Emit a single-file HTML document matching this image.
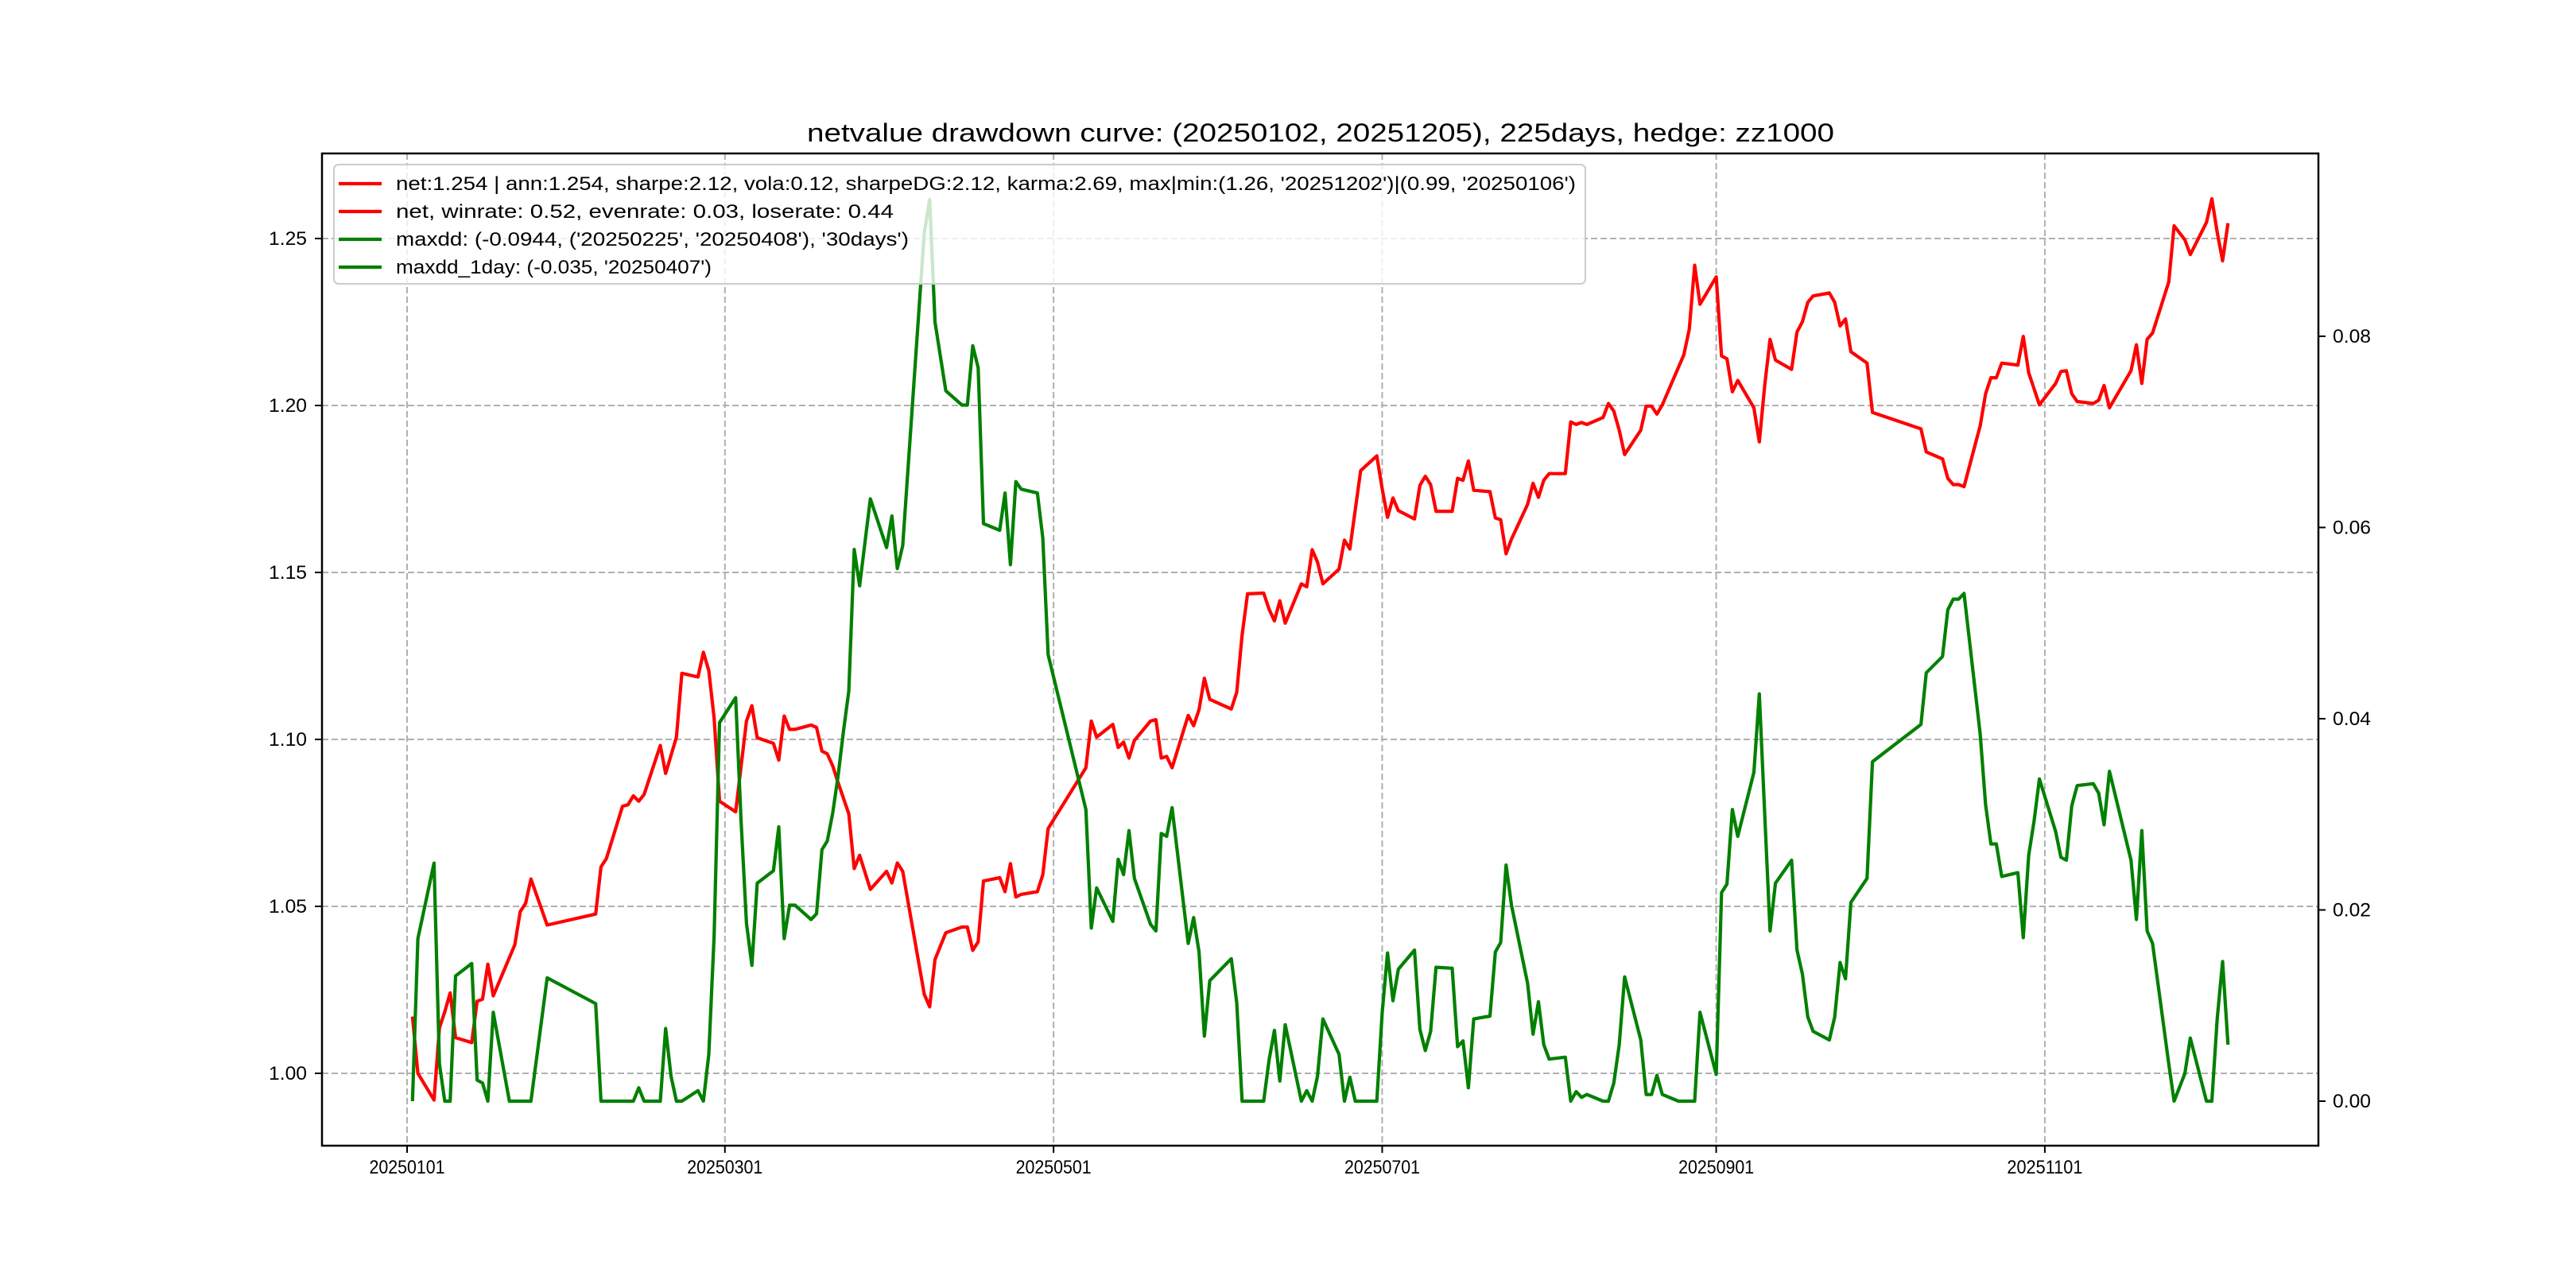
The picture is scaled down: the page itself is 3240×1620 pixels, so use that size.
<!DOCTYPE html>
<html><head><meta charset="utf-8"><style>
html,body{margin:0;padding:0;background:#fff;}
svg{display:block;}
text{font-family:"Liberation Sans","Noto Sans CJK SC",sans-serif;fill:#000;}
</style></head><body>
<svg id="chart" width="3240" height="1620" viewBox="0 0 3240 1620" xmlns="http://www.w3.org/2000/svg">
<rect x="0" y="0" width="3240" height="1620" fill="#fff"/>
<text x="1661" y="178" font-size="32" text-anchor="middle" textLength="1292" lengthAdjust="spacingAndGlyphs">netvalue drawdown curve: (20250102, 20251205), 225days, hedge: zz1000</text>
<g id="grid"></g>
<g id="lines"></g>
<g id="axes"></g>
<g>
<rect x="420" y="207" width="1574" height="150" rx="6" fill="#fff" fill-opacity="0.8" stroke="#cccccc" stroke-width="2"/>
<g><line x1="426" y1="231" x2="480" y2="231" stroke="#ff0000" stroke-width="4.2"/><text x="498" y="239" font-size="24" textLength="1484" lengthAdjust="spacingAndGlyphs">net:1.254 | ann:1.254, sharpe:2.12, vola:0.12, sharpeDG:2.12, karma:2.69, max|min:(1.26, '20251202')|(0.99, '20250106')</text></g>
<g><line x1="426" y1="266" x2="480" y2="266" stroke="#ff0000" stroke-width="4.2"/><text x="498" y="274" font-size="24" textLength="626" lengthAdjust="spacingAndGlyphs">net, winrate: 0.52, evenrate: 0.03, loserate: 0.44</text></g>
<g><line x1="426" y1="301" x2="480" y2="301" stroke="#008000" stroke-width="4.2"/><text x="498" y="309" font-size="24" textLength="645" lengthAdjust="spacingAndGlyphs">maxdd: (-0.0944, ('20250225', '20250408'), '30days')</text></g>
<g><line x1="426" y1="336" x2="480" y2="336" stroke="#008000" stroke-width="4.2"/><text x="498" y="344" font-size="24" textLength="397" lengthAdjust="spacingAndGlyphs">maxdd_1day: (-0.035, '20250407')</text></g>
</g>
</svg>
<script>
// day offsets from 2025-01-01
const netDays=[1,2,5,6,7,8,9,12,13,14,15,16,20,21,22,23,26,35,36,37,40,41,42,43,44,47,48,50,51,54,55,56,57,58,61,63,64,65,68,69,70,71,72,75,76,77,78,79,80,82,83,84,86,89,90,91,92,96,97,98,100,103,104,105,106,107,110,111,112,113,114,117,118,119,126,127,128,131,132,133,134,135,138,139,140,141,142,145,146,147,148,149,153,154,155,156,159,160,161,162,163,166,167,168,169,170,173,174,175,177,180,181,182,183,184,187,188,189,190,191,194,195,196,197,198,201,202,203,204,205,208,209,210,211,212,215,216,217,218,219,222,223,224,225,226,229,230,231,232,233,237,238,239,240,243,244,245,246,247,250,251,252,253,254,257,258,259,260,261,264,265,266,267,268,271,272,281,282,285,286,287,288,289,292,293,294,295,296,299,300,301,302,303,306,307,308,309,310,313,314,315,316,320,321,322,323,324,327,328,330,331,334,335,336,337,338];
const netValues=[1.017,1.000,0.992,1.0136,1.0184,1.0241,1.0107,1.0092,1.0216,1.0222,1.0327,1.0232,1.0385,1.0484,1.0509,1.0582,1.0444,1.0477,1.0618,1.0643,1.0800,1.0804,1.0831,1.0815,1.0835,1.0982,1.0898,1.1007,1.1198,1.1187,1.1261,1.1206,1.1064,1.0815,1.0783,1.1055,1.1101,1.1005,1.0988,1.0938,1.1070,1.1030,1.1030,1.1043,1.1036,1.0965,1.0957,1.0921,1.0871,1.0777,1.0613,1.0653,1.0551,1.0605,1.0570,1.0630,1.0605,1.0237,1.0199,1.0341,1.0421,1.0438,1.0438,1.0368,1.0394,1.0576,1.0586,1.0544,1.0628,1.0528,1.0536,1.0544,1.0595,1.0733,1.0915,1.1055,1.1007,1.1045,1.0976,1.0992,1.0944,1.0997,1.1055,1.1059,1.0944,1.0949,1.0915,1.1072,1.1041,1.1089,1.1183,1.1120,1.1091,1.1141,1.1313,1.1436,1.1438,1.1390,1.1355,1.1415,1.1348,1.1466,1.1457,1.1568,1.1531,1.1466,1.1510,1.1597,1.1570,1.1805,1.1849,1.1750,1.1665,1.1723,1.1685,1.1660,1.1761,1.1788,1.1763,1.1683,1.1683,1.1782,1.1776,1.1834,1.1746,1.1742,1.1663,1.1658,1.1556,1.1600,1.1704,1.1767,1.1725,1.1776,1.1796,1.1796,1.1951,1.1943,1.1949,1.1943,1.1964,1.2006,1.1983,1.1926,1.1853,1.1926,1.1998,1.1998,1.1974,1.2002,1.2152,1.2228,1.2420,1.2303,1.2385,1.2148,1.2140,1.2041,1.2075,1.1993,1.1891,1.2060,1.2198,1.2136,1.2108,1.2220,1.2251,1.2309,1.2328,1.2337,1.2309,1.2238,1.2259,1.2161,1.2127,1.1979,1.1930,1.1861,1.1840,1.1782,1.1763,1.1763,1.1757,1.1939,1.2035,1.2083,1.2083,1.2127,1.2121,1.2207,1.2098,1.2050,1.2002,1.2066,1.2102,1.2104,1.2035,1.2012,1.2006,1.2016,1.2060,1.1993,1.2104,1.2182,1.2066,1.2198,1.2217,1.2370,1.2538,1.2496,1.2452,1.2548,1.2619,1.2519,1.2433,1.2546];
const ddDays=[1,2,5,6,7,8,9,12,13,14,15,16,19,23,26,35,36,42,43,44,47,48,49,50,51,54,55,56,57,58,61,62,63,64,65,68,69,70,71,72,75,76,77,78,79,80,81,82,83,84,86,89,90,91,92,96,97,98,100,103,104,105,106,107,110,111,112,113,114,117,118,119,126,127,128,131,132,133,134,135,138,139,140,141,142,145,146,147,148,149,153,154,155,159,160,161,162,163,166,167,168,169,170,173,174,175,176,180,181,182,183,184,187,188,189,190,191,194,195,196,197,198,201,202,203,204,205,208,209,210,211,212,215,216,217,218,219,222,223,224,225,226,229,230,231,232,233,236,239,240,243,244,245,246,247,250,251,252,253,254,257,258,259,260,261,264,265,266,267,268,271,272,281,282,285,286,287,288,289,292,293,294,295,296,299,300,301,302,303,306,307,308,309,310,313,314,315,316,320,321,322,323,324,327,328,330,331,334,335,336,337,338];
const ddValues=[0,0.0170,0.0249,0.0039,0,0,0.0131,0.0144,0.0022,0.0019,0,0.0093,0,0,0.0129,0.0102,0,0,0.0014,0,0,0.0076,0.0026,0,0,0.0011,0,0.0049,0.0173,0.0396,0.0422,0.0293,0.0186,0.0142,0.0228,0.0241,0.0287,0.0170,0.0205,0.0205,0.0190,0.0196,0.0263,0.0272,0.0301,0.0340,0.0387,0.0429,0.0577,0.0539,0.0630,0.0579,0.0612,0.0557,0.0581,0.0908,0.0943,0.0815,0.0743,0.0728,0.0728,0.0790,0.0767,0.0604,0.0597,0.0636,0.0561,0.0648,0.0640,0.0636,0.0589,0.0467,0.0305,0.0181,0.0223,0.0188,0.0253,0.0237,0.0283,0.0233,0.0185,0.0178,0.0280,0.0277,0.0307,0.0165,0.0192,0.0156,0.0068,0.0126,0.0149,0.0103,0,0,0.0043,0.0074,0.0021,0.0080,0,0.0011,0,0.0026,0.0086,0.0049,0,0.0025,0,0,0.0093,0.0155,0.0105,0.0138,0.0158,0.0075,0.0053,0.0073,0.0140,0.0139,0.0057,0.0063,0.0014,0.0086,0.0089,0.0156,0.0166,0.0247,0.0205,0.0123,0.0070,0.0104,0.0059,0.0044,0.0046,0,0.0010,0.0004,0.0007,0,0,0.0019,0.0059,0.0130,0.0064,0.0007,0.0007,0.0027,0.0007,0,0,0.0093,0.0028,0.0218,0.0227,0.0305,0.0277,0.0344,0.0426,0.0300,0.0178,0.0228,0.0252,0.0158,0.0133,0.0088,0.0073,0.0064,0.0088,0.0145,0.0128,0.0208,0.0233,0.0355,0.0394,0.0448,0.0465,0.0514,0.0525,0.0525,0.0531,0.0384,0.0310,0.0269,0.0269,0.0235,0.0239,0.0171,0.0257,0.0293,0.0337,0.0282,0.0255,0.0252,0.0309,0.0330,0.0332,0.0322,0.0289,0.0345,0.0252,0.0190,0.0283,0.0178,0.0165,0.0039,0,0.0029,0.0066,0,0,0.0086,0.0146,0.0059];
const xTickDays=[0,59,120,181,243,304];
const xTickLabels=["20250101","20250301","20250501","20250701","20250901","20251101"];
const leftTicks=[1.00,1.05,1.10,1.15,1.20,1.25];
const rightTicks=[0.00,0.02,0.04,0.06,0.08];

const L=405,R=2916,T=193,B=1441;
const xScale=d=>512+d*6.776;
const yLeft=v=>1350-(v-1)*4200;
const yRight=v=>1385-v*12026;
const NS="http://www.w3.org/2000/svg";
function mk(tag,attrs,parent){const e=document.createElementNS(NS,tag);for(const k in attrs)e.setAttribute(k,attrs[k]);parent.appendChild(e);return e;}
const grid=document.getElementById('grid'),lines=document.getElementById('lines'),axes=document.getElementById('axes');
xTickDays.forEach((d,i)=>{
  const x=xScale(d);
  const g=mk('line',{x1:x,x2:x,y1:T,y2:B,stroke:'#b0b0b0','stroke-width':2,'stroke-dasharray':'8,4'},grid);
  
  
  const t=mk('line',{x1:x,x2:x,y1:B,y2:B+9,stroke:'#000','stroke-width':2},axes);
  
  
  const lb=mk('text',{x:x,y:1476,'font-size':24,'text-anchor':'middle',textLength:95,lengthAdjust:'spacingAndGlyphs'},axes);
  lb.textContent=xTickLabels[i];
  
  
});
leftTicks.forEach(v=>{
  const y=yLeft(v);
  const g=mk('line',{x1:L,x2:R,y1:y,y2:y,stroke:'#b0b0b0','stroke-width':2,'stroke-dasharray':'8,4'},grid);
  
  
  const t=mk('line',{x1:L-9,x2:L,y1:y,y2:y,stroke:'#000','stroke-width':2},axes);
  
  
  const lb=mk('text',{x:386,y:y+8,'font-size':24,'text-anchor':'end',textLength:48,lengthAdjust:'spacingAndGlyphs'},axes);
  lb.textContent=v.toFixed(2);
  
  
});
rightTicks.forEach(v=>{
  const y=yRight(v);
  const t=mk('line',{x1:R,x2:R+9,y1:y,y2:y,stroke:'#000','stroke-width':2},axes);
  
  
  const lb=mk('text',{x:2934,y:y+8,'font-size':24,textLength:48,lengthAdjust:'spacingAndGlyphs'},axes);
  lb.textContent=v.toFixed(2);
  
  
});
const frame=mk('rect',{x:L,y:T,width:R-L,height:B-T,fill:'none',stroke:'#000','stroke-width':2.5},axes);


const netPath=mk('path',{d:netDays.map((d,i)=>(i?'L':'M')+xScale(d).toFixed(1)+','+yLeft(netValues[i]).toFixed(1)).join(''),fill:'none',stroke:'#ff0000','stroke-width':4.2,'stroke-linejoin':'round'},lines);


const ddPath=mk('path',{d:ddDays.map((d,i)=>(i?'L':'M')+xScale(d).toFixed(1)+','+yRight(ddValues[i]).toFixed(1)).join(''),fill:'none',stroke:'#008000','stroke-width':4.2,'stroke-linejoin':'round'},lines);


</script>
</body></html>
